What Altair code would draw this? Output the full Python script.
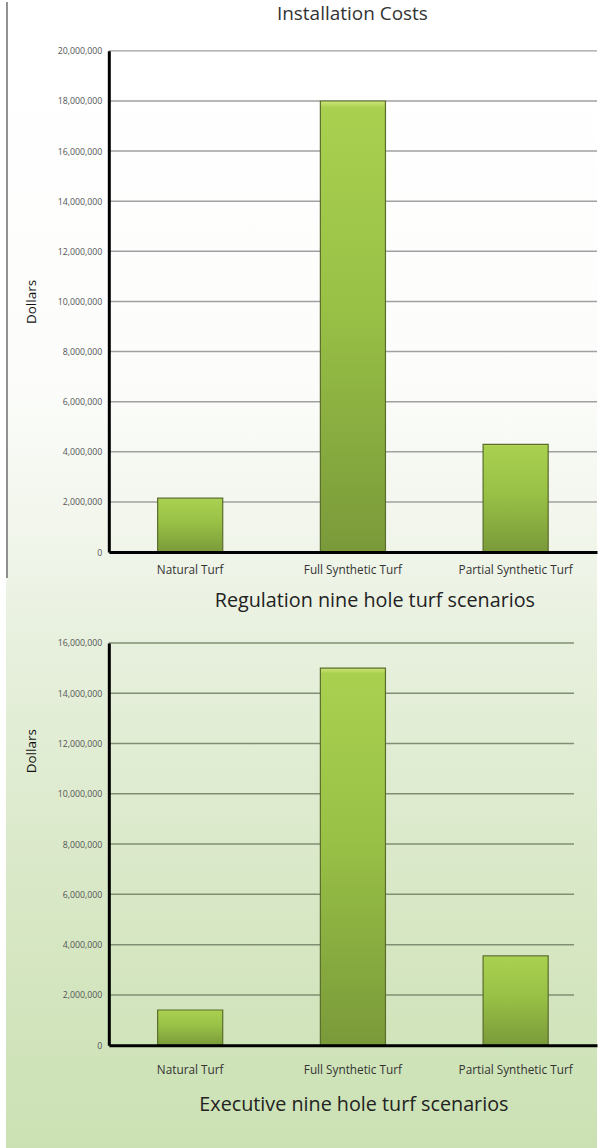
import altair as alt
import pandas as pd

# ---- data ----
categories = ["Natural Turf", "Full Synthetic Turf", "Partial Synthetic Turf"]
regulation_costs = [2150000, 18000000, 4300000]
executive_costs = [1400000, 15000000, 3550000]
regulation_ticks = [0, 2000000, 4000000, 6000000, 8000000, 10000000,
                    12000000, 14000000, 16000000, 18000000, 20000000]
executive_ticks = [0, 2000000, 4000000, 6000000, 8000000, 10000000,
                   12000000, 14000000, 16000000]

main_title = "Installation Costs"
y_title = "Dollars"
regulation_title = "Regulation nine hole turf scenarios"
executive_title = "Executive nine hole turf scenarios"

FONT = "Open Sans"
W = 489          # plot width (both panels)
H_TOP = 502
H_BOT = 403
GAP = 91
LEFT = 109       # plot origin in page pixels
TOP = 49
CANVAS_W = 598
CANVAS_H = 1148

bar_fill = {
    "gradient": "linear", "x1": 0, "x2": 0, "y1": 0, "y2": 1,
    "stops": [
        {"offset": 0.0, "color": "#cfe57a"},
        {"offset": 0.015, "color": "#a9d04f"},
        {"offset": 0.45, "color": "#99c146"},
        {"offset": 1.0, "color": "#7a9a3a"},
    ],
}
bg_fill = {
    "gradient": "linear", "x1": 0, "x2": 0, "y1": 0, "y2": 1,
    "stops": [
        {"offset": 0.0, "color": "#ffffff"},
        {"offset": 0.33, "color": "#fcfdfb"},
        {"offset": 0.49, "color": "#eff4e8"},
        {"offset": 0.56, "color": "#e7f0dd"},
        {"offset": 0.80, "color": "#d7e7c4"},
        {"offset": 1.0, "color": "#cbe1b3"},
    ],
}

one = pd.DataFrame({"k": [0]})


def panel(values, ticks, height, grid_end, grid_color, xtitle, title_x,
          title_y, label_pad, ytitle_y):
    df = pd.DataFrame({"category": categories, "cost": values})
    grid_df = pd.DataFrame({"tick": ticks[1:]})
    y_scale = alt.Scale(domain=[0, ticks[-1]], nice=False, zero=True)
    x_scale = alt.Scale(domain=categories, paddingInner=0.6, paddingOuter=0.3)
    y_axis = alt.Axis(values=ticks, format=",.0f", title=y_title,
                      titleX=-77, titleY=ytitle_y, titleAngle=270,
                      titleAlign="center", titleBaseline="middle",
                      titleFont=FONT, titleFontSize=13.5,
                      titleFontWeight="normal", titleColor="#111111",
                      labelFont=FONT, labelFontSize=8.8, labelColor="#555555",
                      ticks=False, labelPadding=7, domainColor="#000000",
                      domainWidth=3, grid=False, zindex=1)
    x_axis = alt.Axis(title=xtitle, labelAngle=0, ticks=False,
                      labelPadding=label_pad, labelFont=FONT,
                      labelFontSize=11.8, labelColor="#333333",
                      domainColor="#000000", domainWidth=3,
                      titleFont=FONT, titleFontSize=19.8,
                      titleFontWeight="normal", titleColor="#222222",
                      titleX=title_x, titleY=title_y,
                      titleAlign="center", titleBaseline="middle",
                      grid=False, zindex=1)

    grid = alt.Chart(grid_df).mark_rule(color=grid_color, strokeWidth=1.5).encode(
        y=alt.Y("tick:Q", scale=y_scale, axis=y_axis),
        x=alt.value(0),
        x2=alt.value(grid_end),
    )
    bars = alt.Chart(df).mark_bar(fill=bar_fill, stroke="#5a6d2c",
                                  strokeWidth=1.2).encode(
        x=alt.X("category:N", scale=x_scale, sort=categories, axis=x_axis),
        y=alt.Y("cost:Q", scale=y_scale, axis=y_axis),
    )
    return grid, bars


# top panel
white = alt.Chart(one).mark_rect(fill="#ffffff").encode(
    x=alt.value(-LEFT), x2=alt.value(CANVAS_W - LEFT),
    y=alt.value(-TOP), y2=alt.value(CANVAS_H - TOP))
background = alt.Chart(one).mark_rect(fill=bg_fill).encode(
    x=alt.value(6 - LEFT), x2=alt.value(CANVAS_W - LEFT),
    y=alt.value(-TOP), y2=alt.value(CANVAS_H - TOP))
border = alt.Chart(one).mark_rule(color="#6e6e6e", strokeWidth=1.5).encode(
    x=alt.value(7 - LEFT), y=alt.value(-TOP), y2=alt.value(577 - TOP))
title_text = alt.Chart(one).mark_text(font=FONT, fontSize=19, color="#333333",
                                      align="center", baseline="middle").encode(
    x=alt.value(353 - LEFT), y=alt.value(12 - TOP), text=alt.value(main_title))

g1, b1 = panel(regulation_costs, regulation_ticks, H_TOP, W, "#a0a0a0",
               regulation_title, 375 - LEFT, 49, 12, 300 - TOP)
top = alt.layer(white, background, border, g1, b1, title_text).properties(
    width=W, height=H_TOP)

bot_top = TOP + H_TOP + GAP
g2, b2 = panel(executive_costs, executive_ticks, H_BOT, 575 - LEFT, "#7f8f72",
               executive_title, 354 - LEFT, 59, 19, 750 - bot_top)
bottom = alt.layer(g2, b2).properties(width=W, height=H_BOT)

chart = alt.vconcat(top, bottom, spacing=GAP, bounds="flush").properties(
    padding=0
).configure_view(strokeWidth=0)

chart.save("out.html", embed_options={"renderer": "svg", "actions": False})
